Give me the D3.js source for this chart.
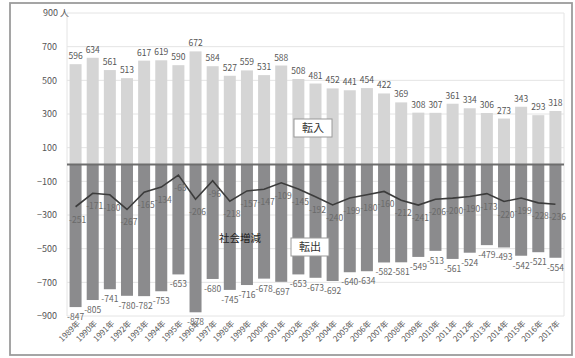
<!DOCTYPE html>
<html>
<head>
<meta charset="utf-8">
<script src="https://cdn.jsdelivr.net/npm/d3@7"></script>
<style>
  html, body { margin: 0; padding: 0; background: #fff; }
  svg { display: block; font-family: "Noto Sans CJK JP", "Noto Sans", sans-serif; }
</style>
</head>
<body>
<svg id="chart" width="575" height="358"></svg>
<script>
// 転入・転出・社会増減（人）
const years = ["1989年","1990年","1991年","1992年","1993年","1994年","1995年","1996年","1997年","1998年",
  "1999年","2000年","2001年","2002年","2003年","2004年","2005年","2006年","2007年","2008年",
  "2009年","2010年","2011年","2012年","2013年","2014年","2015年","2016年","2017年"];
const moveIn = [596,634,561,513,617,619,590,672,584,527,559,531,588,508,481,452,441,454,422,369,
  308,307,361,334,306,273,343,293,318];
const moveOut = [-847,-805,-741,-780,-782,-753,-653,-878,-680,-745,-716,-678,-697,-653,-673,-692,-640,-634,-582,-581,
  -549,-513,-561,-524,-479,-493,-542,-521,-554];
const netChange = [-251,-171,-180,-267,-165,-134,-63,-206,-96,-218,-157,-147,-109,-145,-192,-240,-199,-180,-160,-212,
  -241,-206,-200,-190,-173,-220,-199,-228,-236];
const yTicks = [900,700,500,300,100,-100,-300,-500,-700,-900];

const svg = d3.select("#chart");
const plot = { left: 67, right: 564, top: 13, bottom: 316 };

// frame
svg.append("rect").attr("x", 10).attr("y", 3).attr("width", 562).attr("height", 352)
  .attr("fill", "#fff").attr("stroke", "#9c9c9c").attr("stroke-width", 1.8);

const x = d3.scaleBand().domain(years).range([plot.left, plot.right]).paddingInner(0.3).paddingOuter(0.15);
const y = d3.scaleLinear().domain([-900, 900]).range([plot.bottom, plot.top]);

// gridlines
svg.append("g").selectAll("line").data(yTicks).join("line")
  .attr("x1", plot.left).attr("x2", plot.right)
  .attr("y1", d => y(d)).attr("y2", d => y(d))
  .attr("stroke", "#e4e4e4").attr("stroke-width", 1);
svg.append("line").attr("x1", plot.left).attr("x2", plot.left)
  .attr("y1", plot.top).attr("y2", plot.bottom).attr("stroke", "#e4e4e4");
svg.append("line").attr("x1", plot.right).attr("x2", plot.right)
  .attr("y1", plot.top).attr("y2", plot.bottom).attr("stroke", "#e4e4e4");

// y axis labels
const yAxis = d3.axisLeft(y).tickValues(yTicks).tickSize(0).tickPadding(10);
const gy = svg.append("g").attr("transform", `translate(${plot.left},0)`).call(yAxis);
gy.select(".domain").remove();
gy.selectAll("text").attr("font-size", 9).attr("fill", "#555")
  .attr("font-family", "'Noto Sans CJK JP', sans-serif");
gy.selectAll(".tick").filter(d => d === 900).select("text").text("900 人").attr("dx", 12);

// bars: 転入
svg.append("g").selectAll("rect").data(years).join("rect")
  .attr("x", d => x(d)).attr("width", x.bandwidth())
  .attr("y", (d, i) => y(moveIn[i])).attr("height", (d, i) => y(0) - y(moveIn[i]))
  .attr("fill", "#d5d5d5");

// bars: 転出
svg.append("g").selectAll("rect").data(years).join("rect")
  .attr("x", d => x(d)).attr("width", x.bandwidth())
  .attr("y", y(0)).attr("height", (d, i) => y(moveOut[i]) - y(0))
  .attr("fill", "#8b8b8d");

// zero line
svg.append("line").attr("x1", plot.left).attr("x2", plot.right)
  .attr("y1", y(0)).attr("y2", y(0)).attr("stroke", "#6e6e6e").attr("stroke-width", 2);

const cx = d => x(d) + x.bandwidth() / 2;

// net change line
const line = d3.line().x((d, i) => cx(years[i])).y(d => y(d));
svg.append("path").datum(netChange).attr("d", line)
  .attr("fill", "none").attr("stroke", "#3c3c3c").attr("stroke-width", 1.6);

// value labels
const lab = svg.append("g").attr("font-size", 8.5).attr("text-anchor", "middle");
lab.selectAll("text.in").data(moveIn).join("text").attr("class", "in")
  .attr("x", (d, i) => cx(years[i])).attr("y", d => y(d) - 5)
  .attr("fill", "#555").text(d => d);
lab.selectAll("text.out").data(moveOut).join("text").attr("class", "out")
  .attr("x", (d, i) => cx(years[i])).attr("y", d => y(d) + 13)
  .attr("fill", "#666").text(d => d);
lab.selectAll("text.net").data(netChange).join("text").attr("class", "net")
  .attr("x", (d, i) => cx(years[i]) + 2).attr("y", d => y(d) + 16)
  .attr("fill", "#6a6a6a").text(d => d);

// x axis labels
svg.append("g").selectAll("text").data(years).join("text")
  .attr("transform", d => `translate(${cx(d) + 5},${plot.bottom + 8}) rotate(-45)`)
  .attr("text-anchor", "end").attr("font-size", 8).attr("fill", "#555")
  .text(d => d);

// series labels
function boxLabel(text, cxp, cyp) {
  const g = svg.append("g");
  g.append("rect").attr("x", cxp - 19).attr("y", cyp - 9).attr("width", 38).attr("height", 18)
    .attr("fill", "#fff").attr("stroke", "#9a9a9a").attr("stroke-width", 1);
  g.append("text").attr("x", cxp).attr("y", cyp + 4).attr("text-anchor", "middle")
    .attr("font-size", 11).attr("fill", "#333").text(text);
}
boxLabel("転入", 313, 128);
boxLabel("転出", 310, 247);
svg.append("text").attr("x", 240).attr("y", 242).attr("text-anchor", "middle")
  .attr("font-size", 10.5).attr("fill", "#222").text("社会増減");
</script>
</body>
</html>
